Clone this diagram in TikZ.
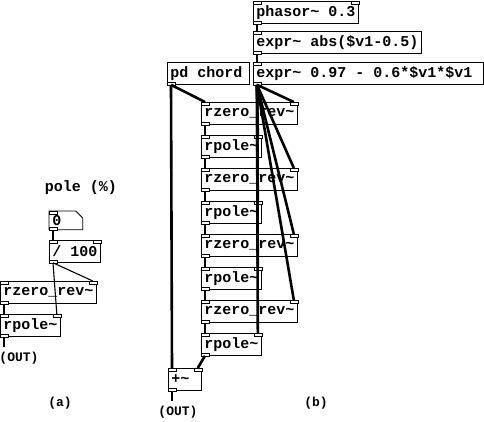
\documentclass[tikz,border=0pt]{standalone}
\usepackage{fontspec}
\setmainfont{Liberation Mono}
\usepackage{tikz}
\usetikzlibrary{calc}
\tikzstyle{objet}=[
        draw,
        line width=0.8pt,
        anchor=north west,
        inner xsep=3pt,
        inner ysep=0pt,
        minimum height=22pt,
        font=\bfseries\fontsize{15}{15}\selectfont
]
\tikzstyle{large}=[align=left,execute at begin node={\spaceskip=9pt\relax}]
\tikzstyle{etiquette}=[font=\bfseries\fontsize{13}{13}\selectfont]
\tikzstyle{titre}=[font=\bfseries\fontsize{15}{15}\selectfont]
\tikzstyle{prise}=[draw,fill=white,line width=0.6pt]
\tikzstyle{signal}=[line width=2.6pt]
\tikzstyle{controle}=[line width=1.1pt]
% entrees gauche et droite, sortie gauche
\newcommand{\prises}[1]{%
  \draw[prise] (#1.north west) rectangle ++(8,3);
  \draw[prise] (#1.north east) rectangle ++(-8,3);
  \draw[prise] (#1.south west) rectangle ++(8,-3);}
% une entree, une sortie
\newcommand{\prisesun}[1]{%
  \draw[prise] (#1.north west) rectangle ++(8,3);
  \draw[prise] (#1.south west) rectangle ++(8,-3);}

\begin{document}
\begin{tikzpicture}[x=1pt,y=-1pt]
\useasboundingbox (0,0) rectangle (484,421);
% (a)
\node[titre] (pole) at (81,188) {pole (\%)};
\node[objet,large,draw=none,minimum height=18pt,text width=27pt] (nombre) at (49,211) {0};
\draw[line width=0.8pt] (nombre.north west) -- ($(nombre.north east)+(-7,0)$)
  -- ($(nombre.north east)+(0,7)$) -- (nombre.south east) -- (nombre.south west) -- cycle;
\node[objet] (div) at (49,240) {/ 100};
\node[objet] (rza) at (0,281) {rzero\_rev\textasciitilde};
\node[objet] (rpa) at (0,314) {rpole\textasciitilde};
\node[etiquette] (outa) at (19,358) {(OUT)};
\node[etiquette] (la) at (60,403) {(a)};
% (b)
\node[objet] (phasor) at (253,1) {phasor\textasciitilde{} 0.3};
\node[objet] (exprabs) at (253,31) {expr\textasciitilde{} abs(\$v1-0.5)};
\node[objet,large,text width=224pt] (expr) at (253,62) {expr\textasciitilde{} 0.97 - 0.6*\$v1*\$v1};
\node[objet,large,text width=76pt] (chord) at (167,62) {pd chord};
\node[objet] (rz1) at (201,102) {rzero\_rev\textasciitilde};
\node[objet] (rp1) at (201,135) {rpole\textasciitilde};
\node[objet] (rz2) at (201,168) {rzero\_rev\textasciitilde};
\node[objet] (rp2) at (201,201) {rpole\textasciitilde};
\node[objet] (rz3) at (201,234) {rzero\_rev\textasciitilde};
\node[objet] (rp3) at (201,267) {rpole\textasciitilde};
\node[objet] (rz4) at (201,300) {rzero\_rev\textasciitilde};
\node[objet] (rp4) at (201,333) {rpole\textasciitilde};
\node[objet,large,text width=27pt] (plus) at (168,368) {+\textasciitilde};
\node[etiquette] (outb) at (178,412) {(OUT)};
\node[etiquette] (lb) at (316,403) {(b)};
%Prises
\prisesun{nombre}
\prises{div}
\prises{rza}
\prises{rpa}
\prises{phasor}
\prisesun{exprabs}
\prisesun{expr}
\draw[prise] (chord.south west) rectangle ++(8,-3);
\prises{rz1}
\prises{rp1}
\prises{rz2}
\prises{rp2}
\prises{rz3}
\prises{rp3}
\prises{rz4}
\prises{rp4}
\prises{plus}
\coordinate (sortiea) at ($(rpa.south west)+(4,10)$);
\coordinate (sortieb) at ($(plus.south west)+(4,10)$);
%Connexions (a)
\draw[controle] ($(nombre.south west)+(4,0)$) -- ($(div.north west)+(4,0)$);
\draw[controle] ($(div.south west)+(4,0)$) -- ($(rza.north east)+(-4,0)$);
\draw[controle] ($(div.south west)+(4,0)$) -- ($(rpa.north east)+(-4,0)$);
\draw[signal] ($(rza.south west)+(4,0)$) -- ($(rpa.north west)+(4,0)$);
\draw[signal] ($(rpa.south west)+(4,0)$) -- (sortiea);
%Connexions (b)
\draw[signal] ($(phasor.south west)+(4,0)$) -- ($(exprabs.north west)+(4,0)$);
\draw[signal] ($(exprabs.south west)+(4,0)$) -- ($(expr.north west)+(4,0)$);
\draw[signal] ($(chord.south west)+(4,0)$) -- ($(rz1.north west)+(4,0)$);
\draw[signal] ($(chord.south west)+(4,0)$) -- ($(plus.north west)+(4,0)$);
\draw[signal] ($(expr.south west)+(4,0)$) -- ($(rz1.north east)+(-4,0)$);
\draw[signal] ($(expr.south west)+(4,0)$) -- ($(rz2.north east)+(-4,0)$);
\draw[signal] ($(expr.south west)+(4,0)$) -- ($(rz3.north east)+(-4,0)$);
\draw[signal] ($(expr.south west)+(4,0)$) -- ($(rz4.north east)+(-4,0)$);
\draw[signal] ($(expr.south west)+(4,0)$) -- ($(rp1.north east)+(-4,0)$);
\draw[signal] ($(expr.south west)+(4,0)$) -- ($(rp2.north east)+(-4,0)$);
\draw[signal] ($(expr.south west)+(4,0)$) -- ($(rp3.north east)+(-4,0)$);
\draw[signal] ($(expr.south west)+(4,0)$) -- ($(rp4.north east)+(-4,0)$);
\draw[signal] ($(rz1.south west)+(4,0)$) -- ($(rp1.north west)+(4,0)$);
\draw[signal] ($(rp1.south west)+(4,0)$) -- ($(rz2.north west)+(4,0)$);
\draw[signal] ($(rz2.south west)+(4,0)$) -- ($(rp2.north west)+(4,0)$);
\draw[signal] ($(rp2.south west)+(4,0)$) -- ($(rz3.north west)+(4,0)$);
\draw[signal] ($(rz3.south west)+(4,0)$) -- ($(rp3.north west)+(4,0)$);
\draw[signal] ($(rp3.south west)+(4,0)$) -- ($(rz4.north west)+(4,0)$);
\draw[signal] ($(rz4.south west)+(4,0)$) -- ($(rp4.north west)+(4,0)$);
\draw[signal] ($(rp4.south west)+(4,0)$) -- ($(plus.north east)+(-4,0)$);
\draw[signal] ($(plus.south west)+(4,0)$) -- (sortieb);
\end{tikzpicture}
\end{document}
